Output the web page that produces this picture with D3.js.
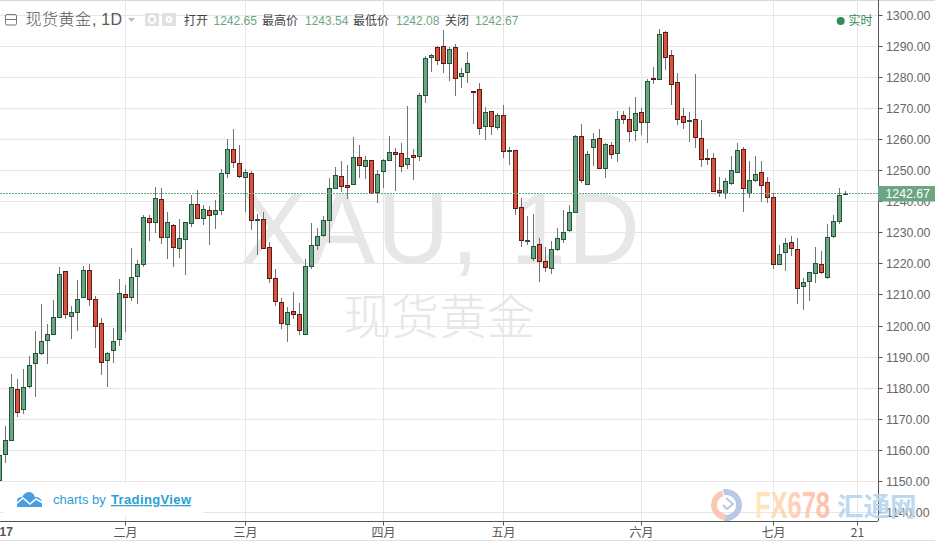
<!DOCTYPE html>
<html><head><meta charset="utf-8">
<script src="https://d3js.org/d3.v7.min.js"></script>
<style>html,body{margin:0;padding:0;background:#fff;overflow:hidden}svg{display:block}</style>
</head><body><svg id="c" width="935" height="541"></svg>
<script>
const opens=[1150.1,1158.6,1163.2,1179.5,1173.1,1180.4,1187.9,1191.0,1195.2,1197.3,
1202.7,1217.6,1203.0,1204.5,1209.2,1217.9,1208.6,1200.8,1188.9,1192.1,
1195.7,1210.1,1209.2,1215.8,1219.8,1234.6,1233.3,1240.7,1228.5,1232.4,
1225.0,1227.9,1233.0,1239.1,1234.6,1237.2,1235.9,1237.2,1249.1,1256.8,
1252.3,1247.7,1249.1,1234.0,1234.3,1225.3,1215.3,1207.6,1200.5,1204.7,
1203.7,1197.3,1219.2,1225.9,1229.0,1233.9,1244.3,1248.1,1245.3,1245.6,
1254.3,1251.4,1253.3,1242.9,1249.8,1253.3,1255.9,1255.6,1252.0,1254.9,
1254.6,1274.2,1286.5,1289.7,1290.0,1284.5,1289.7,1280.2,1281.6,1275.5,
1276.2,1264.3,1269.1,1263.9,1267.8,1256.2,1256.5,1238.2,1227.4,1221.7,
1226.2,1220.8,1218.5,1224.6,1227.9,1230.8,1236.6,1261.0,1245.6,1257.5,
1260.4,1250.7,1258.2,1255.6,1267.8,1266.5,1263.0,1268.8,1265.5,1279.6,
1279.4,1294.5,1287.1,1278.4,1267.5,1265.9,1266.5,1260.4,1253.9,1254.0,
1243.6,1242.7,1245.9,1249.4,1256.8,1242.7,1246.9,1249.4,1246.2,1241.4,
1219.8,1223.7,1226.9,1224.6,1212.7,1214.3,1216.9,1219.8,1215.6,1228.8,
1233.7,1242.65];
const highs=[1160.3,1167.7,1184.7,1182.9,1186.1,1190.3,1198.3,1207.0,1200.6,1208.3,
1219.0,1217.7,1206.5,1214.8,1219.3,1220.1,1209.6,1202.5,1191.6,1199.2,
1215.1,1213.1,1225.0,1221.2,1235.7,1235.7,1244.7,1244.3,1236.7,1232.8,
1234.4,1233.6,1242.1,1243.8,1238.9,1238.5,1240.5,1250.7,1260.1,1263.6,
1258.2,1250.5,1249.9,1236.0,1236.7,1227.0,1218.3,1209.0,1206.1,1210.9,
1207.4,1221.7,1233.3,1231.5,1235.4,1247.6,1251.1,1253.0,1251.8,1260.8,
1258.2,1254.6,1253.6,1250.4,1253.9,1261.1,1257.3,1258.9,1270.8,1256.9,
1274.9,1286.9,1287.7,1290.3,1295.2,1290.0,1290.7,1283.2,1288.4,1275.6,
1278.1,1270.4,1269.4,1268.5,1271.3,1257.6,1256.8,1241.1,1235.3,1236.2,
1228.5,1225.3,1227.5,1231.7,1237.2,1239.1,1261.5,1265.0,1256.2,1262.3,
1263.6,1258.8,1259.4,1269.4,1269.1,1270.4,1273.9,1270.1,1279.4,1283.3,
1295.8,1294.9,1288.8,1281.6,1270.1,1268.8,1281.0,1266.5,1256.9,1255.7,
1247.9,1247.6,1254.7,1258.8,1257.8,1253.3,1254.7,1253.1,1247.9,1242.8,
1226.2,1228.5,1229.1,1228.2,1215.3,1217.2,1225.6,1224.0,1232.7,1235.9,
1244.3,1243.54];
const lows=[1150.0,1155.9,1162.9,1170.7,1171.8,1180.1,1177.2,1190.7,1187.7,1197.0,
1202.5,1202.2,1195.9,1198.4,1209.1,1206.5,1192.9,1184.3,1180.4,1188.1,
1193.7,1198.1,1208.1,1207.1,1219.0,1227.3,1230.0,1226.3,1221.6,1219.0,
1221.8,1216.5,1231.9,1234.5,1232.5,1226.1,1231.3,1235.8,1247.7,1250.9,
1247.7,1236.7,1230.9,1222.8,1224.9,1213.9,1206.5,1199.1,1194.9,1202.3,
1197.2,1197.2,1218.2,1224.5,1228.6,1226.8,1244.0,1243.0,1240.9,1245.5,
1247.6,1247.4,1242.4,1239.6,1244.5,1253.2,1243.5,1249.6,1250.5,1247.0,
1253.1,1271.9,1281.8,1283.9,1281.4,1278.9,1274.0,1276.7,1278.2,1265.2,
1261.5,1259.9,1261.5,1263.1,1254.1,1251.8,1235.8,1225.5,1226.1,1221.0,
1214.2,1217.4,1216.8,1224.3,1226.8,1230.3,1236.5,1245.9,1245.5,1251.5,
1250.7,1247.6,1253.9,1252.9,1265.0,1259.3,1259.6,1261.5,1259.0,1277.8,
1279.3,1282.6,1271.2,1264.6,1263.4,1259.3,1257.2,1251.2,1251.9,1243.2,
1241.4,1240.9,1245.3,1249.4,1236.6,1241.3,1246.5,1239.8,1239.5,1218.2,
1219.7,1217.6,1222.7,1207.2,1205.0,1208.1,1213.7,1216.6,1215.0,1228.2,
1233.0,1242.08];
const closes=[1158.4,1163.1,1180.2,1172.1,1180.2,1187.3,1191.1,1195.0,1197.3,1202.7,
1216.6,1203.7,1204.4,1208.6,1217.9,1208.6,1199.8,1188.2,1191.1,1195.0,
1210.5,1209.2,1215.6,1219.8,1234.9,1233.2,1241.1,1228.5,1233.3,1225.3,
1228.2,1233.3,1239.1,1234.6,1237.5,1235.6,1237.2,1249.1,1256.8,1252.5,
1248.0,1249.4,1233.9,1234.3,1225.0,1215.3,1207.9,1200.7,1204.4,1203.7,
1198.6,1219.2,1225.9,1228.8,1234.0,1244.3,1248.5,1244.9,1244.6,1254.3,
1251.7,1253.3,1242.8,1248.8,1253.3,1255.9,1255.2,1251.4,1253.9,1254.3,
1274.2,1286.2,1287.1,1285.5,1284.5,1289.0,1279.7,1281.3,1284.5,1275.1,
1263.6,1268.8,1264.3,1267.8,1256.2,1256.5,1237.8,1227.5,1227.6,1225.6,
1220.8,1218.8,1224.6,1228.2,1230.1,1236.6,1261.0,1246.9,1255.2,1260.1,
1250.7,1258.5,1255.2,1266.5,1266.5,1262.6,1268.4,1265.5,1278.7,1279.3,
1293.9,1286.5,1277.8,1266.5,1265.5,1266.1,1260.7,1253.6,1253.6,1243.3,
1243.0,1246.5,1250.1,1256.5,1244.3,1246.9,1248.8,1245.3,1241.4,1219.8,
1223.0,1226.6,1225.0,1212.1,1214.0,1217.1,1220.1,1217.2,1228.5,1233.7,
1242.0,1242.67];
const tickBars=[21,41,64,84,107,129,143];
const tickNames=["二月","三月","四月","五月","六月","七月","21"];
const yearBar=0, yearName="2017";
const priceTicks=d3.range(1140,1301,10);
const lastPrice=1242.67;
const legendNames=["打开","最高价","最低价","关闭"];
const legendValues=["1242.65","1243.54","1242.08","1242.67"];

const UP="#6ba583",UPB="#225437",DN="#d75442",DNB="#5b1a13",WICK="#737375",GRID="#e6e6e6",TXT="#555";
const LAT='"Liberation Sans",Arial,sans-serif', CJK='"Noto Sans CJK SC","Liberation Sans",sans-serif';
const R=878, B=521;
const svg=d3.select("#c");
const x=d3.scaleLinear().domain([0,141]).range([-0.5,845.5]);
const y=d3.scaleLinear().domain([1140,1300]).range([512.3,15.5]);
const snap=v=>Math.floor(v)+.5;

svg.append("line").attr("x1",0).attr("x2",935).attr("y1",.5).attr("y2",.5).attr("stroke","#d8d8d8");
svg.append("line").attr("x1",0).attr("x2",935).attr("y1",540.5).attr("y2",540.5).attr("stroke","#e0e0e0");

const grid=svg.append("g").attr("stroke",GRID).attr("fill","none");
priceTicks.forEach(p=>grid.append("line").attr("x1",0).attr("x2",R).attr("y1",snap(y(p))).attr("y2",snap(y(p))));
tickBars.forEach(i=>grid.append("line").attr("y1",0).attr("y2",B).attr("x1",snap(x(i))).attr("x2",snap(x(i))));

svg.append("text").attr("x",440).attr("y",263).attr("text-anchor","middle").attr("fill","#e7e7e7")
 .style("font",`100px ${LAT}`).attr("textLength",400).text("XAU, 1D");
svg.append("text").attr("x",439).attr("y",334).attr("text-anchor","middle").attr("fill","#e7e7e7")
 .style("font",`48px ${CJK}`).style("font-weight",300).text("现货黄金");

const idx=d3.range(opens.length);
const gc=svg.append("g");
gc.selectAll("line.w").data(idx).join("line").attr("class","w")
 .attr("x1",i=>snap(x(i))).attr("x2",i=>snap(x(i)))
 .attr("y1",i=>Math.round(y(highs[i]))).attr("y2",i=>Math.round(y(lows[i])))
 .attr("stroke",WICK);
gc.selectAll("rect").data(idx).join("rect")
 .attr("x",i=>snap(x(i))-2).attr("width",4)
 .attr("y",i=>snap(y(Math.max(opens[i],closes[i]))))
 .attr("height",i=>Math.max(1,snap(y(Math.min(opens[i],closes[i])))-snap(y(Math.max(opens[i],closes[i])))))
 .attr("fill",i=>closes[i]>=opens[i]?UP:DN)
 .attr("stroke",i=>closes[i]>=opens[i]?UPB:DNB);

svg.append("line").attr("x1",0).attr("x2",R).attr("y1",snap(y(lastPrice))).attr("y2",snap(y(lastPrice)))
 .attr("stroke",UP).attr("stroke-dasharray","2,1");

const ax=svg.append("g").attr("transform",`translate(${R+.5},0)`).call(
  d3.axisRight(y).tickValues(priceTicks).tickFormat(d3.format(".2f")).tickSize(4).tickPadding(3));
ax.selectAll("text").style("font",`12.3px ${LAT}`).attr("fill","#666").attr("x",7.5).attr("dy","0.36em");
const bx=svg.append("g").attr("transform",`translate(0,${B+.5})`).call(
  d3.axisBottom(x).tickValues(tickBars).tickFormat((d,i)=>tickNames[i]).tickSize(4).tickPadding(2));
bx.selectAll("text").style("font",`12px ${CJK}`).attr("fill",TXT).attr("dy","0.82em");
ax.selectAll("path.domain").attr("stroke","#555").attr("d",`M0,0V${B}`);
bx.selectAll("path.domain").attr("stroke","#555").attr("d",`M0,0H${R}`);
ax.selectAll(".tick line").attr("stroke","#555");
bx.selectAll(".tick line").attr("stroke","#555");
ax.selectAll(".tick").attr("transform",d=>`translate(0,${snap(y(d))})`);
bx.selectAll(".tick").attr("transform",d=>`translate(${snap(x(d))},0)`);
svg.append("text").attr("x",x(yearBar)).attr("y",B+15).attr("text-anchor","middle").attr("fill",TXT)
 .style("font",`bold 12px ${LAT}`).text(yearName);

svg.append("rect").attr("x",R).attr("y",186).attr("width",57).attr("height",15.5).attr("fill",UP);
svg.append("text").attr("x",885.5).attr("y",198.3).attr("fill","#fff").style("font",`12.3px ${LAT}`).text(d3.format(".2f")(lastPrice));

const h=svg.append("g");
h.append("rect").attr("x",5.5).attr("y",14.5).attr("width",11).attr("height",10.5).attr("rx",1.5).attr("fill","none").attr("stroke","#777");
h.append("line").attr("x1",6).attr("x2",16).attr("y1",19.5).attr("y2",19.5).attr("stroke","#777");
h.append("text").attr("x",25.5).attr("y",25).attr("fill",TXT).style("font",`300 16px ${CJK}`).attr("letter-spacing",.5).text("现货黄金");
h.append("text").attr("x",92).attr("y",25).attr("fill",TXT).style("font",`16px ${LAT}`).attr("letter-spacing",.2).text(", 1D");
h.append("path").attr("d","M128,18H135L131.5,22Z").attr("fill","#bbb");
h.append("rect").attr("x",145).attr("y",13).attr("width",14).attr("height",13).attr("fill","#e0e0e0");
h.append("circle").attr("cx",152).attr("cy",19.5).attr("r",3.5).attr("fill","none").attr("stroke","#fff").attr("stroke-width",2);
h.append("rect").attr("x",162).attr("y",13).attr("width",14).attr("height",13).attr("fill","#e0e0e0");
h.append("circle").attr("cx",169).attr("cy",19.5).attr("r",3.5).attr("fill","#fff");
h.append("circle").attr("cx",169).attr("cy",19.5).attr("r",1.3).attr("fill","#e0e0e0");
const lnx=[184,262,353,445], vx=[213.5,305,396,475];
legendNames.forEach((n,i)=>{
 h.append("text").attr("x",lnx[i]).attr("y",25).attr("fill","#444").style("font",`12px ${CJK}`).text(n);
 h.append("text").attr("x",vx[i]).attr("y",25).attr("fill",UP).style("font",`12px ${LAT}`).text(legendValues[i]);
});
h.append("circle").attr("cx",840.7).attr("cy",21).attr("r",4).attr("fill","#338a5c");
h.append("text").attr("x",848.5).attr("y",25).attr("fill","#338a5c").style("font",`12px ${CJK}`).text("实时");

const l=svg.append("g");
l.append("rect").attr("x",4).attr("y",483).attr("width",199).attr("height",32).attr("fill","#fff");
l.append("path").attr("fill","#4a9ee0").attr("d","M17,507V501Q17,497 22,497Q25,492 29,492Q33,492 35,497Q41,497 42,502V507Z");
l.append("path").attr("fill","none").attr("stroke","#fff").attr("stroke-width",1.6).attr("d","M16,504L23,498L30,504L36,499L43,503");
l.append("text").attr("x",53).attr("y",504).attr("fill","#2a9fd6").style("font",`13px ${LAT}`).text("charts by");
l.append("text").attr("x",111).attr("y",504).attr("fill","#2a9fd6").style("font",`bold 13px ${LAT}`).attr("textLength",80).attr("text-decoration","underline").text("TradingView");

const w=svg.append("g").attr("opacity",.9);
const arc=d3.arc();
w.append("path").attr("transform","translate(726,505)").attr("fill","#b3c3e4")
 .attr("d",arc({innerRadius:10,outerRadius:16,startAngle:-.2,endAngle:3.3}));
w.append("path").attr("transform","translate(726,505)").attr("fill","#f8c4ac")
 .attr("d",arc({innerRadius:9,outerRadius:15,startAngle:3.2,endAngle:6.0}));
w.append("path").attr("fill","none").attr("stroke","#b3c3e4").attr("stroke-width",2).attr("d","M726,498L733,504L727,509L723,505");
const fxGrad=svg.append("defs").append("linearGradient").attr("id","fx");
fxGrad.append("stop").attr("offset","0%").attr("stop-color","#ffe6b8");
fxGrad.append("stop").attr("offset","100%").attr("stop-color","#ffb5a5");
w.append("text").attr("x",755).attr("y",517.5).attr("fill","url(#fx)").style("font",`bold 36px ${LAT}`).attr("textLength",75).attr("lengthAdjust","spacingAndGlyphs").text("FX678");
w.append("text").attr("x",837).attr("y",516).attr("fill","#b8d4ec").style("font",`bold 26.5px ${CJK}`).text("汇通网");
</script></body></html>
